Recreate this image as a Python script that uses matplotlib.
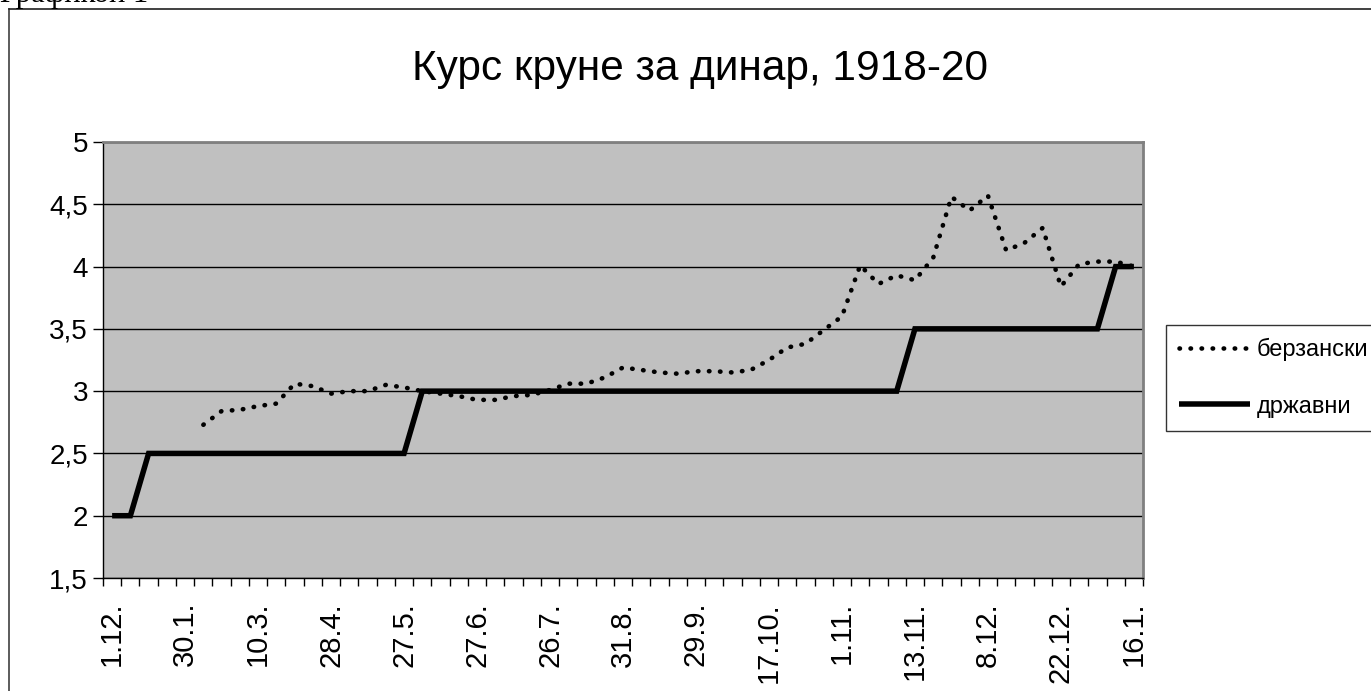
import numpy as np
import matplotlib
matplotlib.use("Agg")
import matplotlib.pyplot as plt
from matplotlib.lines import Line2D

# ---------------- data ----------------
title = "Курс круне за динар, 1918-20"
caption = "Графикон 1"
series_names = ["берзански", "државни"]

# 57 categories (dates); only every 4th is labelled on the axis
n_categories = 57
label_every = 4
date_labels = ["1.12.", "30.1.", "10.3.", "28.4.", "27.5.", "27.6.", "26.7.",
               "31.8.", "29.9.", "17.10.", "1.11.", "13.11.", "8.12.", "22.12.", "16.1."]

nan = np.nan
berzanski = [nan, nan, nan, nan, nan,
             2.73, 2.84, 2.85, 2.88, 2.90, 3.06, 3.04, 2.98, 3.00, 3.00,
             3.05, 3.03, 3.00, 2.98, 2.96, 2.93, 2.93, 2.96, 2.97, 3.01,
             3.06, 3.06, 3.11, 3.19, 3.17, 3.15, 3.14, 3.16, 3.16, 3.15,
             3.17, 3.25, 3.35, 3.38, 3.49, 3.60, 4.01, 3.86, 3.93, 3.89,
             4.07, 4.56, 4.45, 4.57, 4.13, 4.19, 4.31, 3.84, 4.02, 4.04,
             4.04, 4.00]

drzavni = [2.0, 2.0, 2.5, 2.5, 2.5, 2.5, 2.5, 2.5, 2.5, 2.5,
           2.5, 2.5, 2.5, 2.5, 2.5, 2.5, 2.5, 3.0, 3.0, 3.0,
           3.0, 3.0, 3.0, 3.0, 3.0, 3.0, 3.0, 3.0, 3.0, 3.0,
           3.0, 3.0, 3.0, 3.0, 3.0, 3.0, 3.0, 3.0, 3.0, 3.0,
           3.0, 3.0, 3.0, 3.0, 3.5, 3.5, 3.5, 3.5, 3.5, 3.5,
           3.5, 3.5, 3.5, 3.5, 3.5, 4.0, 4.0]

y_ticks = [1.5, 2.0, 2.5, 3.0, 3.5, 4.0, 4.5, 5.0]
y_tick_labels = ["1,5", "2", "2,5", "3", "3,5", "4", "4,5", "5"]

# ---------------- figure ----------------
W, H = 1371, 691
plt.rcParams['font.family'] = ['Liberation Sans', 'DejaVu Sans']
fig = plt.figure(figsize=(W / 100, H / 100), dpi=100)
fig.patch.set_facecolor('white')

left, right, top, bottom = 103, 1143, 142, 578
ax = fig.add_axes([left / W, 1 - bottom / H, (right - left) / W, (bottom - top) / H])
ax.set_facecolor('#C0C0C0')

x = np.arange(n_categories)
px = 72 / 100  # points per pixel

dot_style = (0, (0.1, 2.3))
ax.plot(x, drzavni, color='black', lw=5.5 * px, solid_joinstyle='miter',
        solid_capstyle='butt', zorder=3)
ax.plot(x, berzanski, color='black', lw=4.6 * px, linestyle=dot_style,
        dash_capstyle='round', zorder=4)

ax.set_xlim(-0.5, n_categories - 0.5)
ax.set_ylim(1.5, 5.0)

# y axis
ax.set_yticks(y_ticks)
ax.set_yticklabels(y_tick_labels, fontsize=20)
ax.tick_params(axis='y', direction='out', length=10 * px, width=1, pad=5 * px, colors='black')
ax.yaxis.grid(True, color='black', lw=1.0)
ax.set_axisbelow(True)

# x axis: ticks at category boundaries, labels at every 4th category centre
ax.set_xticks(np.arange(n_categories + 1) - 0.5)
ax.set_xticklabels([])
ax.tick_params(axis='x', which='major', direction='out', length=8 * px, width=1)
ax.set_xticks(x[::label_every], minor=True)
ax.set_xticklabels(date_labels, minor=True, rotation=90, fontsize=21)
ax.tick_params(axis='x', which='minor', length=0, pad=24 * px)

for s in ['top', 'right']:
    ax.spines[s].set_color('#808080')
    ax.spines[s].set_linewidth(2)
for s in ['left', 'bottom']:
    ax.spines[s].set_color('black')
    ax.spines[s].set_linewidth(1)

# title
fig.text(700 / W, 1 - 80 / H, title, ha='center', va='baseline', fontsize=30.5)

# caption partly cut at the top edge, as in the reference
fig.text(0 / W, 1 - 2 / H, caption, ha='left', va='baseline', fontsize=22,
         family=['Liberation Serif', 'DejaVu Serif'])

# outer chart border (left and top visible)
fig.add_artist(Line2D([8.5 / W, 8.5 / W], [0, 1 - 9 / H], color='#404040', lw=1.2,
                      transform=fig.transFigure))
fig.add_artist(Line2D([8.5 / W, 1], [1 - 9 / H, 1 - 9 / H], color='#202020', lw=1.2,
                      transform=fig.transFigure))

# legend
handles = [Line2D([], [], color='black', lw=4.6 * px, linestyle=dot_style,
                  dash_capstyle='round'),
           Line2D([], [], color='black', lw=5.5 * px, solid_capstyle='butt')]
leg = fig.legend(handles, series_names, loc='center left',
                 bbox_to_anchor=(1166 / W, 1 - 378 / H), bbox_transform=fig.transFigure,
                 borderaxespad=0, fontsize=17, frameon=True, fancybox=False,
                 handlelength=3.0, handletextpad=0.3, labelspacing=1.45, borderpad=0.55)
leg.get_frame().set_edgecolor('black')
leg.get_frame().set_linewidth(1)
leg.get_frame().set_facecolor('white')

fig.savefig('out.png', dpi=100)
